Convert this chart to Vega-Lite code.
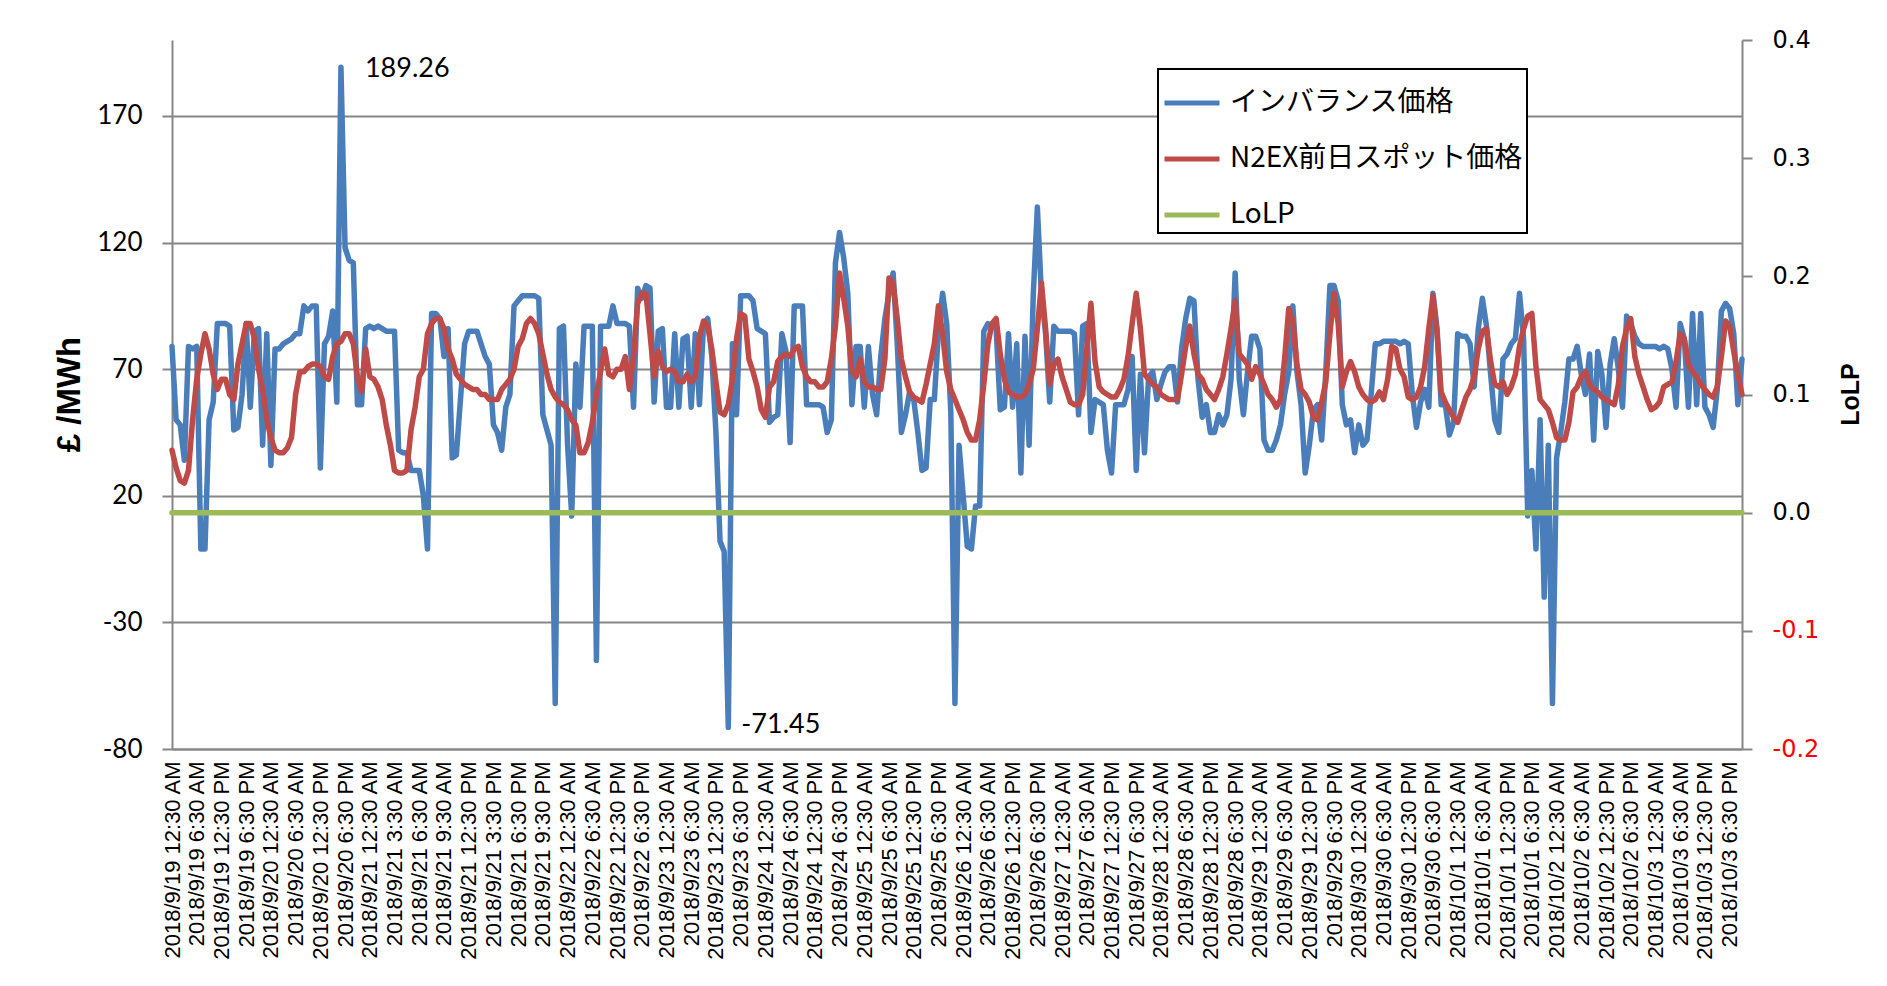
{
"$schema":"https://vega.github.io/schema/vega-lite/v6.json",
"width":1570,"height":709,
"autosize":{"type":"none"},
"padding":{"left":172,"top":40,"right":145,"bottom":237},
"background":"white",
"config":{"view":{"stroke":null},"font":"Liberation Sans"},
"data":{"values":[
{"t":"2018/9/19 12:30 AM","imb":79,"n2ex":38,"lolp":0},
{"t":"2018/9/19 1:30 AM","imb":50,"n2ex":31,"lolp":0},
{"t":"2018/9/19 2:30 AM","imb":48,"n2ex":26,"lolp":0},
{"t":"2018/9/19 3:30 AM","imb":34,"n2ex":25,"lolp":0},
{"t":"2018/9/19 4:30 AM","imb":79,"n2ex":30,"lolp":0},
{"t":"2018/9/19 5:30 AM","imb":78,"n2ex":50,"lolp":0},
{"t":"2018/9/19 6:30 AM","imb":79,"n2ex":66,"lolp":0},
{"t":"2018/9/19 7:30 AM","imb":-1,"n2ex":76,"lolp":0},
{"t":"2018/9/19 8:30 AM","imb":-1,"n2ex":84,"lolp":0},
{"t":"2018/9/19 9:30 AM","imb":50,"n2ex":78,"lolp":0},
{"t":"2018/9/19 10:30 AM","imb":57,"n2ex":68,"lolp":0},
{"t":"2018/9/19 11:30 AM","imb":88,"n2ex":62,"lolp":0},
{"t":"2018/9/19 12:30 PM","imb":88,"n2ex":66,"lolp":0},
{"t":"2018/9/19 1:30 PM","imb":88,"n2ex":66,"lolp":0},
{"t":"2018/9/19 2:30 PM","imb":87,"n2ex":60,"lolp":0},
{"t":"2018/9/19 3:30 PM","imb":46,"n2ex":58,"lolp":0},
{"t":"2018/9/19 4:30 PM","imb":47,"n2ex":72,"lolp":0},
{"t":"2018/9/19 5:30 PM","imb":60,"n2ex":80,"lolp":0},
{"t":"2018/9/19 6:30 PM","imb":88,"n2ex":88,"lolp":0},
{"t":"2018/9/19 7:30 PM","imb":55,"n2ex":88,"lolp":0},
{"t":"2018/9/19 8:30 PM","imb":85,"n2ex":82,"lolp":0},
{"t":"2018/9/19 9:30 PM","imb":86,"n2ex":70,"lolp":0},
{"t":"2018/9/19 10:30 PM","imb":40,"n2ex":62,"lolp":0},
{"t":"2018/9/19 11:30 PM","imb":84,"n2ex":50,"lolp":0},
{"t":"2018/9/20 12:30 AM","imb":32,"n2ex":43,"lolp":0},
{"t":"2018/9/20 1:30 AM","imb":78,"n2ex":38,"lolp":0},
{"t":"2018/9/20 2:30 AM","imb":78,"n2ex":37,"lolp":0},
{"t":"2018/9/20 3:30 AM","imb":80,"n2ex":37,"lolp":0},
{"t":"2018/9/20 4:30 AM","imb":81,"n2ex":39,"lolp":0},
{"t":"2018/9/20 5:30 AM","imb":82,"n2ex":43,"lolp":0},
{"t":"2018/9/20 6:30 AM","imb":84,"n2ex":60,"lolp":0},
{"t":"2018/9/20 7:30 AM","imb":84,"n2ex":69,"lolp":0},
{"t":"2018/9/20 8:30 AM","imb":95,"n2ex":69,"lolp":0},
{"t":"2018/9/20 9:30 AM","imb":93,"n2ex":71,"lolp":0},
{"t":"2018/9/20 10:30 AM","imb":95,"n2ex":72,"lolp":0},
{"t":"2018/9/20 11:30 AM","imb":95,"n2ex":72,"lolp":0},
{"t":"2018/9/20 12:30 PM","imb":31,"n2ex":71,"lolp":0},
{"t":"2018/9/20 1:30 PM","imb":80,"n2ex":67,"lolp":0},
{"t":"2018/9/20 2:30 PM","imb":83,"n2ex":66,"lolp":0},
{"t":"2018/9/20 3:30 PM","imb":93,"n2ex":75,"lolp":0},
{"t":"2018/9/20 4:30 PM","imb":57,"n2ex":80,"lolp":0},
{"t":"2018/9/20 5:30 PM","imb":189.26,"n2ex":81,"lolp":0,"lab":"189.26"},
{"t":"2018/9/20 6:30 PM","imb":118,"n2ex":84,"lolp":0},
{"t":"2018/9/20 7:30 PM","imb":113,"n2ex":84,"lolp":0},
{"t":"2018/9/20 8:30 PM","imb":112,"n2ex":80,"lolp":0},
{"t":"2018/9/20 9:30 PM","imb":56,"n2ex":67,"lolp":0},
{"t":"2018/9/20 10:30 PM","imb":56,"n2ex":61,"lolp":0},
{"t":"2018/9/20 11:30 PM","imb":86,"n2ex":78,"lolp":0},
{"t":"2018/9/21 12:30 AM","imb":87,"n2ex":67,"lolp":0},
{"t":"2018/9/21 1:00 AM","imb":86,"n2ex":66,"lolp":0},
{"t":"2018/9/21 1:30 AM","imb":87,"n2ex":63,"lolp":0},
{"t":"2018/9/21 2:00 AM","imb":86,"n2ex":58,"lolp":0},
{"t":"2018/9/21 2:30 AM","imb":85,"n2ex":48,"lolp":0},
{"t":"2018/9/21 3:00 AM","imb":85,"n2ex":40,"lolp":0},
{"t":"2018/9/21 3:30 AM","imb":85,"n2ex":30,"lolp":0},
{"t":"2018/9/21 4:00 AM","imb":38,"n2ex":29,"lolp":0},
{"t":"2018/9/21 4:30 AM","imb":37,"n2ex":29,"lolp":0},
{"t":"2018/9/21 5:00 AM","imb":37,"n2ex":30,"lolp":0},
{"t":"2018/9/21 5:30 AM","imb":30,"n2ex":46,"lolp":0},
{"t":"2018/9/21 6:00 AM","imb":30,"n2ex":55,"lolp":0},
{"t":"2018/9/21 6:30 AM","imb":30,"n2ex":67,"lolp":0},
{"t":"2018/9/21 7:00 AM","imb":20,"n2ex":70,"lolp":0},
{"t":"2018/9/21 7:30 AM","imb":-1,"n2ex":84,"lolp":0},
{"t":"2018/9/21 8:00 AM","imb":92,"n2ex":88,"lolp":0},
{"t":"2018/9/21 8:30 AM","imb":92,"n2ex":90,"lolp":0},
{"t":"2018/9/21 9:00 AM","imb":90,"n2ex":90,"lolp":0},
{"t":"2018/9/21 9:30 AM","imb":75,"n2ex":86,"lolp":0},
{"t":"2018/9/21 10:00 AM","imb":86,"n2ex":78,"lolp":0},
{"t":"2018/9/21 10:30 AM","imb":35,"n2ex":74,"lolp":0},
{"t":"2018/9/21 11:00 AM","imb":36,"n2ex":68,"lolp":0},
{"t":"2018/9/21 11:30 AM","imb":58,"n2ex":66,"lolp":0},
{"t":"2018/9/21 12:00 PM","imb":80,"n2ex":64,"lolp":0},
{"t":"2018/9/21 12:30 PM","imb":85,"n2ex":63,"lolp":0},
{"t":"2018/9/21 1:00 PM","imb":85,"n2ex":62,"lolp":0},
{"t":"2018/9/21 1:30 PM","imb":85,"n2ex":62,"lolp":0},
{"t":"2018/9/21 2:00 PM","imb":80,"n2ex":60,"lolp":0},
{"t":"2018/9/21 2:30 PM","imb":75,"n2ex":60,"lolp":0},
{"t":"2018/9/21 3:00 PM","imb":72,"n2ex":58,"lolp":0},
{"t":"2018/9/21 3:30 PM","imb":48,"n2ex":58,"lolp":0},
{"t":"2018/9/21 4:00 PM","imb":45,"n2ex":58,"lolp":0},
{"t":"2018/9/21 4:30 PM","imb":38,"n2ex":62,"lolp":0},
{"t":"2018/9/21 5:00 PM","imb":55,"n2ex":64,"lolp":0},
{"t":"2018/9/21 5:30 PM","imb":60,"n2ex":66,"lolp":0},
{"t":"2018/9/21 6:00 PM","imb":95,"n2ex":70,"lolp":0},
{"t":"2018/9/21 6:30 PM","imb":97,"n2ex":79,"lolp":0},
{"t":"2018/9/21 7:00 PM","imb":99,"n2ex":82,"lolp":0},
{"t":"2018/9/21 7:30 PM","imb":99,"n2ex":88,"lolp":0},
{"t":"2018/9/21 8:00 PM","imb":99,"n2ex":90,"lolp":0},
{"t":"2018/9/21 8:30 PM","imb":99,"n2ex":88,"lolp":0},
{"t":"2018/9/21 9:00 PM","imb":98,"n2ex":84,"lolp":0},
{"t":"2018/9/21 9:30 PM","imb":52,"n2ex":76,"lolp":0},
{"t":"2018/9/21 10:00 PM","imb":46,"n2ex":68,"lolp":0},
{"t":"2018/9/21 10:30 PM","imb":40,"n2ex":62,"lolp":0},
{"t":"2018/9/21 11:00 PM","imb":-62,"n2ex":59,"lolp":0},
{"t":"2018/9/21 11:30 PM","imb":86,"n2ex":57,"lolp":0},
{"t":"2018/9/22 12:00 AM","imb":87,"n2ex":56,"lolp":0},
{"t":"2018/9/22 12:30 AM","imb":40,"n2ex":54,"lolp":0},
{"t":"2018/9/22 1:30 AM","imb":12,"n2ex":50,"lolp":0},
{"t":"2018/9/22 2:30 AM","imb":72,"n2ex":48,"lolp":0},
{"t":"2018/9/22 3:30 AM","imb":55,"n2ex":37,"lolp":0},
{"t":"2018/9/22 4:30 AM","imb":87,"n2ex":37,"lolp":0},
{"t":"2018/9/22 5:30 AM","imb":87,"n2ex":41,"lolp":0},
{"t":"2018/9/22 6:30 AM","imb":87,"n2ex":49,"lolp":0},
{"t":"2018/9/22 7:30 AM","imb":-45,"n2ex":60,"lolp":0},
{"t":"2018/9/22 8:30 AM","imb":87,"n2ex":69,"lolp":0},
{"t":"2018/9/22 9:30 AM","imb":87,"n2ex":78,"lolp":0},
{"t":"2018/9/22 10:30 AM","imb":87,"n2ex":68,"lolp":0},
{"t":"2018/9/22 11:30 AM","imb":95,"n2ex":67,"lolp":0},
{"t":"2018/9/22 12:30 PM","imb":88,"n2ex":70,"lolp":0},
{"t":"2018/9/22 1:30 PM","imb":88,"n2ex":70,"lolp":0},
{"t":"2018/9/22 2:30 PM","imb":88,"n2ex":75,"lolp":0},
{"t":"2018/9/22 3:30 PM","imb":87,"n2ex":62,"lolp":0},
{"t":"2018/9/22 4:30 PM","imb":55,"n2ex":75,"lolp":0},
{"t":"2018/9/22 5:30 PM","imb":102,"n2ex":96,"lolp":0},
{"t":"2018/9/22 6:30 PM","imb":98,"n2ex":100,"lolp":0},
{"t":"2018/9/22 7:30 PM","imb":103,"n2ex":100,"lolp":0},
{"t":"2018/9/22 8:30 PM","imb":102,"n2ex":84,"lolp":0},
{"t":"2018/9/22 9:30 PM","imb":57,"n2ex":67,"lolp":0},
{"t":"2018/9/22 10:30 PM","imb":85,"n2ex":77,"lolp":0},
{"t":"2018/9/22 11:30 PM","imb":86,"n2ex":71,"lolp":0},
{"t":"2018/9/23 12:30 AM","imb":55,"n2ex":69,"lolp":0},
{"t":"2018/9/23 1:30 AM","imb":55,"n2ex":70,"lolp":0},
{"t":"2018/9/23 2:30 AM","imb":84,"n2ex":69,"lolp":0},
{"t":"2018/9/23 3:30 AM","imb":55,"n2ex":65,"lolp":0},
{"t":"2018/9/23 4:30 AM","imb":82,"n2ex":65,"lolp":0},
{"t":"2018/9/23 5:30 AM","imb":83,"n2ex":68,"lolp":0},
{"t":"2018/9/23 6:30 AM","imb":55,"n2ex":65,"lolp":0},
{"t":"2018/9/23 7:30 AM","imb":84,"n2ex":67,"lolp":0},
{"t":"2018/9/23 8:30 AM","imb":56,"n2ex":83,"lolp":0},
{"t":"2018/9/23 9:30 AM","imb":88,"n2ex":89,"lolp":0},
{"t":"2018/9/23 10:30 AM","imb":90,"n2ex":87,"lolp":0},
{"t":"2018/9/23 11:30 AM","imb":75,"n2ex":78,"lolp":0},
{"t":"2018/9/23 12:30 PM","imb":45,"n2ex":65,"lolp":0},
{"t":"2018/9/23 1:30 PM","imb":2,"n2ex":53,"lolp":0},
{"t":"2018/9/23 2:30 PM","imb":-2,"n2ex":52,"lolp":0},
{"t":"2018/9/23 3:30 PM","imb":-71.45,"n2ex":56,"lolp":0,"lab":"-71.45"},
{"t":"2018/9/23 4:30 PM","imb":80,"n2ex":66,"lolp":0},
{"t":"2018/9/23 5:30 PM","imb":52,"n2ex":82,"lolp":0},
{"t":"2018/9/23 6:30 PM","imb":99,"n2ex":92,"lolp":0},
{"t":"2018/9/23 7:30 PM","imb":99,"n2ex":91,"lolp":0},
{"t":"2018/9/23 8:30 PM","imb":99,"n2ex":74,"lolp":0},
{"t":"2018/9/23 9:30 PM","imb":97,"n2ex":69,"lolp":0},
{"t":"2018/9/23 10:30 PM","imb":86,"n2ex":63,"lolp":0},
{"t":"2018/9/23 11:30 PM","imb":85,"n2ex":54,"lolp":0},
{"t":"2018/9/24 12:30 AM","imb":84,"n2ex":51,"lolp":0},
{"t":"2018/9/24 1:30 AM","imb":49,"n2ex":63,"lolp":0},
{"t":"2018/9/24 2:30 AM","imb":51,"n2ex":65,"lolp":0},
{"t":"2018/9/24 3:30 AM","imb":52,"n2ex":73,"lolp":0},
{"t":"2018/9/24 4:30 AM","imb":84,"n2ex":75,"lolp":0},
{"t":"2018/9/24 5:30 AM","imb":77,"n2ex":76,"lolp":0},
{"t":"2018/9/24 6:30 AM","imb":41,"n2ex":75,"lolp":0},
{"t":"2018/9/24 7:30 AM","imb":95,"n2ex":78,"lolp":0},
{"t":"2018/9/24 8:30 AM","imb":95,"n2ex":79,"lolp":0},
{"t":"2018/9/24 9:30 AM","imb":95,"n2ex":71,"lolp":0},
{"t":"2018/9/24 10:30 AM","imb":56,"n2ex":67,"lolp":0},
{"t":"2018/9/24 11:30 AM","imb":56,"n2ex":65,"lolp":0},
{"t":"2018/9/24 12:30 PM","imb":56,"n2ex":65,"lolp":0},
{"t":"2018/9/24 1:30 PM","imb":56,"n2ex":63,"lolp":0},
{"t":"2018/9/24 2:30 PM","imb":55,"n2ex":63,"lolp":0},
{"t":"2018/9/24 3:30 PM","imb":45,"n2ex":65,"lolp":0},
{"t":"2018/9/24 4:30 PM","imb":50,"n2ex":74,"lolp":0},
{"t":"2018/9/24 5:30 PM","imb":112,"n2ex":87,"lolp":0},
{"t":"2018/9/24 6:30 PM","imb":124,"n2ex":108,"lolp":0},
{"t":"2018/9/24 7:30 PM","imb":114,"n2ex":98,"lolp":0},
{"t":"2018/9/24 8:30 PM","imb":100,"n2ex":87,"lolp":0},
{"t":"2018/9/24 9:30 PM","imb":56,"n2ex":69,"lolp":0},
{"t":"2018/9/24 10:30 PM","imb":79,"n2ex":67,"lolp":0},
{"t":"2018/9/24 11:30 PM","imb":79,"n2ex":74,"lolp":0},
{"t":"2018/9/25 12:30 AM","imb":55,"n2ex":65,"lolp":0},
{"t":"2018/9/25 1:30 AM","imb":79,"n2ex":63,"lolp":0},
{"t":"2018/9/25 2:30 AM","imb":60,"n2ex":63,"lolp":0},
{"t":"2018/9/25 3:30 AM","imb":52,"n2ex":62,"lolp":0},
{"t":"2018/9/25 4:30 AM","imb":75,"n2ex":62,"lolp":0},
{"t":"2018/9/25 5:30 AM","imb":90,"n2ex":74,"lolp":0},
{"t":"2018/9/25 6:30 AM","imb":100,"n2ex":106,"lolp":0},
{"t":"2018/9/25 7:30 AM","imb":108,"n2ex":104,"lolp":0},
{"t":"2018/9/25 8:30 AM","imb":80,"n2ex":90,"lolp":0},
{"t":"2018/9/25 9:30 AM","imb":45,"n2ex":74,"lolp":0},
{"t":"2018/9/25 10:30 AM","imb":52,"n2ex":67,"lolp":0},
{"t":"2018/9/25 11:30 AM","imb":61,"n2ex":61,"lolp":0},
{"t":"2018/9/25 12:30 PM","imb":58,"n2ex":59,"lolp":0},
{"t":"2018/9/25 1:30 PM","imb":45,"n2ex":58,"lolp":0},
{"t":"2018/9/25 2:30 PM","imb":30,"n2ex":57,"lolp":0},
{"t":"2018/9/25 3:30 PM","imb":31,"n2ex":64,"lolp":0},
{"t":"2018/9/25 4:30 PM","imb":58,"n2ex":72,"lolp":0},
{"t":"2018/9/25 5:30 PM","imb":58,"n2ex":80,"lolp":0},
{"t":"2018/9/25 6:30 PM","imb":85,"n2ex":95,"lolp":0},
{"t":"2018/9/25 7:30 PM","imb":100,"n2ex":84,"lolp":0},
{"t":"2018/9/25 8:30 PM","imb":88,"n2ex":69,"lolp":0},
{"t":"2018/9/25 9:30 PM","imb":53,"n2ex":62,"lolp":0},
{"t":"2018/9/25 10:30 PM","imb":-62,"n2ex":58,"lolp":0},
{"t":"2018/9/25 11:30 PM","imb":40,"n2ex":54,"lolp":0},
{"t":"2018/9/26 12:30 AM","imb":20,"n2ex":50,"lolp":0},
{"t":"2018/9/26 1:30 AM","imb":0,"n2ex":45,"lolp":0},
{"t":"2018/9/26 2:30 AM","imb":-1,"n2ex":42,"lolp":0},
{"t":"2018/9/26 3:30 AM","imb":16,"n2ex":42,"lolp":0},
{"t":"2018/9/26 4:30 AM","imb":16,"n2ex":50,"lolp":0},
{"t":"2018/9/26 5:30 AM","imb":85,"n2ex":64,"lolp":0},
{"t":"2018/9/26 6:30 AM","imb":88,"n2ex":80,"lolp":0},
{"t":"2018/9/26 7:30 AM","imb":87,"n2ex":88,"lolp":0},
{"t":"2018/9/26 8:30 AM","imb":86,"n2ex":90,"lolp":0},
{"t":"2018/9/26 9:30 AM","imb":54,"n2ex":76,"lolp":0},
{"t":"2018/9/26 10:30 AM","imb":55,"n2ex":66,"lolp":0},
{"t":"2018/9/26 11:30 AM","imb":84,"n2ex":61,"lolp":0},
{"t":"2018/9/26 12:30 PM","imb":55,"n2ex":60,"lolp":0},
{"t":"2018/9/26 1:30 PM","imb":80,"n2ex":59,"lolp":0},
{"t":"2018/9/26 2:30 PM","imb":29,"n2ex":59,"lolp":0},
{"t":"2018/9/26 3:30 PM","imb":83,"n2ex":60,"lolp":0},
{"t":"2018/9/26 4:30 PM","imb":40,"n2ex":64,"lolp":0},
{"t":"2018/9/26 5:30 PM","imb":99,"n2ex":70,"lolp":0},
{"t":"2018/9/26 6:30 PM","imb":134,"n2ex":86,"lolp":0},
{"t":"2018/9/26 7:30 PM","imb":99,"n2ex":104,"lolp":0},
{"t":"2018/9/26 8:30 PM","imb":84,"n2ex":86,"lolp":0},
{"t":"2018/9/26 9:30 PM","imb":57,"n2ex":64,"lolp":0},
{"t":"2018/9/26 10:30 PM","imb":87,"n2ex":72,"lolp":0},
{"t":"2018/9/26 11:30 PM","imb":85,"n2ex":74,"lolp":0},
{"t":"2018/9/27 12:30 AM","imb":85,"n2ex":67,"lolp":0},
{"t":"2018/9/27 1:30 AM","imb":85,"n2ex":62,"lolp":0},
{"t":"2018/9/27 2:30 AM","imb":85,"n2ex":57,"lolp":0},
{"t":"2018/9/27 3:30 AM","imb":84,"n2ex":56,"lolp":0},
{"t":"2018/9/27 4:30 AM","imb":52,"n2ex":56,"lolp":0},
{"t":"2018/9/27 5:30 AM","imb":87,"n2ex":60,"lolp":0},
{"t":"2018/9/27 6:30 AM","imb":88,"n2ex":78,"lolp":0},
{"t":"2018/9/27 7:30 AM","imb":45,"n2ex":96,"lolp":0},
{"t":"2018/9/27 8:30 AM","imb":58,"n2ex":73,"lolp":0},
{"t":"2018/9/27 9:30 AM","imb":57,"n2ex":63,"lolp":0},
{"t":"2018/9/27 10:30 AM","imb":56,"n2ex":61,"lolp":0},
{"t":"2018/9/27 11:30 AM","imb":38,"n2ex":60,"lolp":0},
{"t":"2018/9/27 12:30 PM","imb":29,"n2ex":59,"lolp":0},
{"t":"2018/9/27 1:30 PM","imb":56,"n2ex":59,"lolp":0},
{"t":"2018/9/27 2:30 PM","imb":56,"n2ex":62,"lolp":0},
{"t":"2018/9/27 3:30 PM","imb":56,"n2ex":66,"lolp":0},
{"t":"2018/9/27 4:30 PM","imb":62,"n2ex":75,"lolp":0},
{"t":"2018/9/27 5:30 PM","imb":75,"n2ex":88,"lolp":0},
{"t":"2018/9/27 6:30 PM","imb":30,"n2ex":100,"lolp":0},
{"t":"2018/9/27 7:30 PM","imb":68,"n2ex":86,"lolp":0},
{"t":"2018/9/27 8:30 PM","imb":37,"n2ex":68,"lolp":0},
{"t":"2018/9/27 9:30 PM","imb":67,"n2ex":66,"lolp":0},
{"t":"2018/9/27 10:30 PM","imb":69,"n2ex":64,"lolp":0},
{"t":"2018/9/27 11:30 PM","imb":58,"n2ex":63,"lolp":0},
{"t":"2018/9/28 12:30 AM","imb":64,"n2ex":60,"lolp":0},
{"t":"2018/9/28 1:30 AM","imb":69,"n2ex":59,"lolp":0},
{"t":"2018/9/28 2:30 AM","imb":71,"n2ex":58,"lolp":0},
{"t":"2018/9/28 3:30 AM","imb":71,"n2ex":58,"lolp":0},
{"t":"2018/9/28 4:30 AM","imb":57,"n2ex":58,"lolp":0},
{"t":"2018/9/28 5:30 AM","imb":78,"n2ex":68,"lolp":0},
{"t":"2018/9/28 6:30 AM","imb":90,"n2ex":79,"lolp":0},
{"t":"2018/9/28 7:30 AM","imb":98,"n2ex":87,"lolp":0},
{"t":"2018/9/28 8:30 AM","imb":97,"n2ex":76,"lolp":0},
{"t":"2018/9/28 9:30 AM","imb":66,"n2ex":68,"lolp":0},
{"t":"2018/9/28 10:30 AM","imb":51,"n2ex":66,"lolp":0},
{"t":"2018/9/28 11:30 AM","imb":56,"n2ex":62,"lolp":0},
{"t":"2018/9/28 12:30 PM","imb":45,"n2ex":60,"lolp":0},
{"t":"2018/9/28 1:30 PM","imb":45,"n2ex":58,"lolp":0},
{"t":"2018/9/28 2:30 PM","imb":52,"n2ex":62,"lolp":0},
{"t":"2018/9/28 3:30 PM","imb":48,"n2ex":67,"lolp":0},
{"t":"2018/9/28 4:30 PM","imb":52,"n2ex":76,"lolp":0},
{"t":"2018/9/28 5:30 PM","imb":66,"n2ex":86,"lolp":0},
{"t":"2018/9/28 6:30 PM","imb":108,"n2ex":97,"lolp":0},
{"t":"2018/9/28 7:30 PM","imb":66,"n2ex":76,"lolp":0},
{"t":"2018/9/28 8:30 PM","imb":52,"n2ex":74,"lolp":0},
{"t":"2018/9/28 9:30 PM","imb":69,"n2ex":72,"lolp":0},
{"t":"2018/9/28 10:30 PM","imb":83,"n2ex":66,"lolp":0},
{"t":"2018/9/28 11:30 PM","imb":83,"n2ex":71,"lolp":0},
{"t":"2018/9/29 12:30 AM","imb":78,"n2ex":68,"lolp":0},
{"t":"2018/9/29 1:30 AM","imb":42,"n2ex":64,"lolp":0},
{"t":"2018/9/29 2:30 AM","imb":38,"n2ex":60,"lolp":0},
{"t":"2018/9/29 3:30 AM","imb":38,"n2ex":58,"lolp":0},
{"t":"2018/9/29 4:30 AM","imb":42,"n2ex":55,"lolp":0},
{"t":"2018/9/29 5:30 AM","imb":48,"n2ex":58,"lolp":0},
{"t":"2018/9/29 6:30 AM","imb":60,"n2ex":74,"lolp":0},
{"t":"2018/9/29 7:30 AM","imb":69,"n2ex":94,"lolp":0},
{"t":"2018/9/29 8:30 AM","imb":95,"n2ex":89,"lolp":0},
{"t":"2018/9/29 9:30 AM","imb":69,"n2ex":72,"lolp":0},
{"t":"2018/9/29 10:30 AM","imb":56,"n2ex":62,"lolp":0},
{"t":"2018/9/29 11:30 AM","imb":29,"n2ex":60,"lolp":0},
{"t":"2018/9/29 12:30 PM","imb":40,"n2ex":57,"lolp":0},
{"t":"2018/9/29 1:30 PM","imb":54,"n2ex":51,"lolp":0},
{"t":"2018/9/29 2:30 PM","imb":56,"n2ex":50,"lolp":0},
{"t":"2018/9/29 3:30 PM","imb":42,"n2ex":57,"lolp":0},
{"t":"2018/9/29 4:30 PM","imb":69,"n2ex":65,"lolp":0},
{"t":"2018/9/29 5:30 PM","imb":103,"n2ex":84,"lolp":0},
{"t":"2018/9/29 6:30 PM","imb":103,"n2ex":100,"lolp":0},
{"t":"2018/9/29 7:30 PM","imb":97,"n2ex":88,"lolp":0},
{"t":"2018/9/29 8:30 PM","imb":56,"n2ex":63,"lolp":0},
{"t":"2018/9/29 9:30 PM","imb":48,"n2ex":69,"lolp":0},
{"t":"2018/9/29 10:30 PM","imb":50,"n2ex":73,"lolp":0},
{"t":"2018/9/29 11:30 PM","imb":37,"n2ex":69,"lolp":0},
{"t":"2018/9/30 12:30 AM","imb":48,"n2ex":63,"lolp":0},
{"t":"2018/9/30 1:30 AM","imb":40,"n2ex":60,"lolp":0},
{"t":"2018/9/30 2:30 AM","imb":42,"n2ex":58,"lolp":0},
{"t":"2018/9/30 3:30 AM","imb":60,"n2ex":57,"lolp":0},
{"t":"2018/9/30 4:30 AM","imb":80,"n2ex":58,"lolp":0},
{"t":"2018/9/30 5:30 AM","imb":80,"n2ex":61,"lolp":0},
{"t":"2018/9/30 6:30 AM","imb":81,"n2ex":58,"lolp":0},
{"t":"2018/9/30 7:30 AM","imb":81,"n2ex":66,"lolp":0},
{"t":"2018/9/30 8:30 AM","imb":81,"n2ex":79,"lolp":0},
{"t":"2018/9/30 9:30 AM","imb":81,"n2ex":78,"lolp":0},
{"t":"2018/9/30 10:30 AM","imb":80,"n2ex":70,"lolp":0},
{"t":"2018/9/30 11:30 AM","imb":81,"n2ex":67,"lolp":0},
{"t":"2018/9/30 12:30 PM","imb":80,"n2ex":59,"lolp":0},
{"t":"2018/9/30 1:30 PM","imb":60,"n2ex":58,"lolp":0},
{"t":"2018/9/30 2:30 PM","imb":47,"n2ex":59,"lolp":0},
{"t":"2018/9/30 3:30 PM","imb":57,"n2ex":63,"lolp":0},
{"t":"2018/9/30 4:30 PM","imb":62,"n2ex":71,"lolp":0},
{"t":"2018/9/30 5:30 PM","imb":55,"n2ex":86,"lolp":0},
{"t":"2018/9/30 6:30 PM","imb":100,"n2ex":99,"lolp":0},
{"t":"2018/9/30 7:30 PM","imb":86,"n2ex":84,"lolp":0},
{"t":"2018/9/30 8:30 PM","imb":56,"n2ex":61,"lolp":0},
{"t":"2018/9/30 9:30 PM","imb":56,"n2ex":57,"lolp":0},
{"t":"2018/9/30 10:30 PM","imb":44,"n2ex":54,"lolp":0},
{"t":"2018/9/30 11:30 PM","imb":49,"n2ex":51,"lolp":0},
{"t":"2018/10/1 12:30 AM","imb":84,"n2ex":49,"lolp":0},
{"t":"2018/10/1 1:30 AM","imb":83,"n2ex":54,"lolp":0},
{"t":"2018/10/1 2:30 AM","imb":83,"n2ex":59,"lolp":0},
{"t":"2018/10/1 3:30 AM","imb":80,"n2ex":62,"lolp":0},
{"t":"2018/10/1 4:30 AM","imb":63,"n2ex":67,"lolp":0},
{"t":"2018/10/1 5:30 AM","imb":86,"n2ex":78,"lolp":0},
{"t":"2018/10/1 6:30 AM","imb":98,"n2ex":85,"lolp":0},
{"t":"2018/10/1 7:30 AM","imb":87,"n2ex":86,"lolp":0},
{"t":"2018/10/1 8:30 AM","imb":68,"n2ex":73,"lolp":0},
{"t":"2018/10/1 9:30 AM","imb":50,"n2ex":64,"lolp":0},
{"t":"2018/10/1 10:30 AM","imb":45,"n2ex":63,"lolp":0},
{"t":"2018/10/1 11:30 AM","imb":74,"n2ex":65,"lolp":0},
{"t":"2018/10/1 12:30 PM","imb":76,"n2ex":60,"lolp":0},
{"t":"2018/10/1 1:30 PM","imb":80,"n2ex":63,"lolp":0},
{"t":"2018/10/1 2:30 PM","imb":82,"n2ex":68,"lolp":0},
{"t":"2018/10/1 3:30 PM","imb":100,"n2ex":79,"lolp":0},
{"t":"2018/10/1 4:30 PM","imb":82,"n2ex":86,"lolp":0},
{"t":"2018/10/1 5:30 PM","imb":12,"n2ex":91,"lolp":0},
{"t":"2018/10/1 6:30 PM","imb":30,"n2ex":92,"lolp":0},
{"t":"2018/10/1 7:30 PM","imb":-1,"n2ex":71,"lolp":0},
{"t":"2018/10/1 8:30 PM","imb":50,"n2ex":58,"lolp":0},
{"t":"2018/10/1 9:30 PM","imb":-20,"n2ex":56,"lolp":0},
{"t":"2018/10/1 10:30 PM","imb":40,"n2ex":54,"lolp":0},
{"t":"2018/10/1 11:30 PM","imb":-62,"n2ex":49,"lolp":0},
{"t":"2018/10/2 12:30 AM","imb":35,"n2ex":43,"lolp":0},
{"t":"2018/10/2 1:30 AM","imb":45,"n2ex":42,"lolp":0},
{"t":"2018/10/2 2:30 AM","imb":57,"n2ex":42,"lolp":0},
{"t":"2018/10/2 3:30 AM","imb":74,"n2ex":49,"lolp":0},
{"t":"2018/10/2 4:30 AM","imb":74,"n2ex":61,"lolp":0},
{"t":"2018/10/2 5:30 AM","imb":79,"n2ex":63,"lolp":0},
{"t":"2018/10/2 6:30 AM","imb":68,"n2ex":67,"lolp":0},
{"t":"2018/10/2 7:30 AM","imb":60,"n2ex":69,"lolp":0},
{"t":"2018/10/2 8:30 AM","imb":76,"n2ex":64,"lolp":0},
{"t":"2018/10/2 9:30 AM","imb":42,"n2ex":62,"lolp":0},
{"t":"2018/10/2 10:30 AM","imb":77,"n2ex":61,"lolp":0},
{"t":"2018/10/2 11:30 AM","imb":68,"n2ex":59,"lolp":0},
{"t":"2018/10/2 12:30 PM","imb":47,"n2ex":58,"lolp":0},
{"t":"2018/10/2 1:30 PM","imb":72,"n2ex":57,"lolp":0},
{"t":"2018/10/2 2:30 PM","imb":82,"n2ex":56,"lolp":0},
{"t":"2018/10/2 3:30 PM","imb":70,"n2ex":64,"lolp":0},
{"t":"2018/10/2 4:30 PM","imb":55,"n2ex":79,"lolp":0},
{"t":"2018/10/2 5:30 PM","imb":91,"n2ex":86,"lolp":0},
{"t":"2018/10/2 6:30 PM","imb":88,"n2ex":90,"lolp":0},
{"t":"2018/10/2 7:30 PM","imb":83,"n2ex":75,"lolp":0},
{"t":"2018/10/2 8:30 PM","imb":80,"n2ex":68,"lolp":0},
{"t":"2018/10/2 9:30 PM","imb":79,"n2ex":63,"lolp":0},
{"t":"2018/10/2 10:30 PM","imb":79,"n2ex":58,"lolp":0},
{"t":"2018/10/2 11:30 PM","imb":79,"n2ex":54,"lolp":0},
{"t":"2018/10/3 12:30 AM","imb":79,"n2ex":55,"lolp":0},
{"t":"2018/10/3 1:30 AM","imb":78,"n2ex":57,"lolp":0},
{"t":"2018/10/3 2:30 AM","imb":79,"n2ex":63,"lolp":0},
{"t":"2018/10/3 3:30 AM","imb":78,"n2ex":64,"lolp":0},
{"t":"2018/10/3 4:30 AM","imb":70,"n2ex":65,"lolp":0},
{"t":"2018/10/3 5:30 AM","imb":55,"n2ex":73,"lolp":0},
{"t":"2018/10/3 6:30 AM","imb":88,"n2ex":84,"lolp":0},
{"t":"2018/10/3 7:30 AM","imb":82,"n2ex":82,"lolp":0},
{"t":"2018/10/3 8:30 AM","imb":55,"n2ex":72,"lolp":0},
{"t":"2018/10/3 9:30 AM","imb":92,"n2ex":69,"lolp":0},
{"t":"2018/10/3 10:30 AM","imb":56,"n2ex":67,"lolp":0},
{"t":"2018/10/3 11:30 AM","imb":92,"n2ex":64,"lolp":0},
{"t":"2018/10/3 12:30 PM","imb":55,"n2ex":62,"lolp":0},
{"t":"2018/10/3 1:30 PM","imb":52,"n2ex":60,"lolp":0},
{"t":"2018/10/3 2:30 PM","imb":47,"n2ex":59,"lolp":0},
{"t":"2018/10/3 3:30 PM","imb":62,"n2ex":63,"lolp":0},
{"t":"2018/10/3 4:30 PM","imb":93,"n2ex":75,"lolp":0},
{"t":"2018/10/3 5:30 PM","imb":96,"n2ex":89,"lolp":0},
{"t":"2018/10/3 6:30 PM","imb":94,"n2ex":87,"lolp":0},
{"t":"2018/10/3 7:30 PM","imb":84,"n2ex":77,"lolp":0},
{"t":"2018/10/3 8:30 PM","imb":56,"n2ex":68,"lolp":0},
{"t":"2018/10/3 9:30 PM","imb":74,"n2ex":60,"lolp":0}
]},
"encoding":{"x":{"field":"t","type":"ordinal","sort":null,"scale":{"type":"point","padding":0},
"axis":{"title":null,"values":["2018/9/19 12:30 AM","2018/9/19 6:30 AM","2018/9/19 12:30 PM","2018/9/19 6:30 PM","2018/9/20 12:30 AM","2018/9/20 6:30 AM","2018/9/20 12:30 PM","2018/9/20 6:30 PM","2018/9/21 12:30 AM","2018/9/21 3:30 AM","2018/9/21 6:30 AM","2018/9/21 9:30 AM","2018/9/21 12:30 PM","2018/9/21 3:30 PM","2018/9/21 6:30 PM","2018/9/21 9:30 PM","2018/9/22 12:30 AM","2018/9/22 6:30 AM","2018/9/22 12:30 PM","2018/9/22 6:30 PM","2018/9/23 12:30 AM","2018/9/23 6:30 AM","2018/9/23 12:30 PM","2018/9/23 6:30 PM","2018/9/24 12:30 AM","2018/9/24 6:30 AM","2018/9/24 12:30 PM","2018/9/24 6:30 PM","2018/9/25 12:30 AM","2018/9/25 6:30 AM","2018/9/25 12:30 PM","2018/9/25 6:30 PM","2018/9/26 12:30 AM","2018/9/26 6:30 AM","2018/9/26 12:30 PM","2018/9/26 6:30 PM","2018/9/27 12:30 AM","2018/9/27 6:30 AM","2018/9/27 12:30 PM","2018/9/27 6:30 PM","2018/9/28 12:30 AM","2018/9/28 6:30 AM","2018/9/28 12:30 PM","2018/9/28 6:30 PM","2018/9/29 12:30 AM","2018/9/29 6:30 AM","2018/9/29 12:30 PM","2018/9/29 6:30 PM","2018/9/30 12:30 AM","2018/9/30 6:30 AM","2018/9/30 12:30 PM","2018/9/30 6:30 PM","2018/10/1 12:30 AM","2018/10/1 6:30 AM","2018/10/1 12:30 PM","2018/10/1 6:30 PM","2018/10/2 12:30 AM","2018/10/2 6:30 AM","2018/10/2 12:30 PM","2018/10/2 6:30 PM","2018/10/3 12:30 AM","2018/10/3 6:30 AM","2018/10/3 12:30 PM","2018/10/3 6:30 PM"],
"labelAngle":-90,"labelFont":"Liberation Sans","labelFontSize":22,"labelColor":"#000000","labelPadding":12,"labelLimit":400,"labelOverlap":false,"labelBound":false,"ticks":false,"grid":false,"domainColor":"#868686","domainWidth":2}}},
"layer":[
{"mark":{"type":"line","strokeWidth":5.5,"strokeJoin":"round","strokeCap":"round"},
"encoding":{"y":{"field":"imb","type":"quantitative","scale":{"domain":[-80,200],"nice":false,"zero":false},
"axis":{"orient":"left","title":"£ /MWh","values":[-80,-30,20,70,120,170],"labelExpr":"datum.value + ''","grid":true,"gridColor":"#868686","gridWidth":2,"domainColor":"#868686","domainWidth":2,"tickColor":"#868686","tickWidth":2,"tickSize":10,"labelFont":"Lato","labelFontSize":26,"labelColor":"#000000","labelPadding":20,"titleFont":"Liberation Sans","titleFontSize":33,"titleFontWeight":"bold","titleColor":"#000000","titleAngle":-90,"titleX":-103,"titleY":354,"titleAlign":"center","titleBaseline":"middle"}},
"color":{"datum":"インバランス価格","scale":{"domain":["インバランス価格","N2EX前日スポット価格","LoLP"],"range":["#4a7ebb","#be4b48","#9bbb59"]},
"legend":{"orient":"none","legendX":986,"legendY":29,"title":null,"symbolType":"stroke","symbolStrokeWidth":5,"symbolSize":3025,"labelFont":"Noto Sans CJK JP","labelFontSize":28,"labelColor":"#000000","labelLimit":400,"strokeColor":"#000000","fillColor":"#ffffff","padding":4,"rowPadding":12,"labelOffset":8,"direction":"vertical","encode":{"legend":{"update":{"strokeWidth":{"value":2}}}}}}}},
{"mark":{"type":"line","strokeWidth":5.5,"strokeJoin":"round","strokeCap":"round"},
"encoding":{"y":{"field":"n2ex","type":"quantitative","scale":{"domain":[-80,200],"nice":false,"zero":false},"axis":null},"color":{"datum":"N2EX前日スポット価格"}}},
{"mark":{"type":"text","align":"left","baseline":"middle","dx":24,"dy":2,"font":"Lato","fontSize":27,"color":"#000000"},
"encoding":{"y":{"field":"imb","type":"quantitative","scale":{"domain":[-80,200],"nice":false,"zero":false},"axis":null},"text":{"condition":{"test":"datum.lab == '189.26'","field":"lab","type":"nominal"},"value":""}}},
{"mark":{"type":"text","align":"left","baseline":"middle","dx":13,"dy":-2,"font":"Lato","fontSize":27,"color":"#000000"},
"encoding":{"y":{"field":"imb","type":"quantitative","scale":{"domain":[-80,200],"nice":false,"zero":false},"axis":null},"text":{"condition":{"test":"datum.lab == '-71.45'","field":"lab","type":"nominal"},"value":""}}},
{"mark":{"type":"line","strokeWidth":5.5,"strokeCap":"round"},
"encoding":{"y":{"field":"lolp","type":"quantitative","scale":{"domain":[-0.2,0.4],"nice":false,"zero":false},
"axis":{"orient":"right","title":"LoLP","values":[-0.2,-0.1,0,0.1,0.2,0.3,0.4],"labelExpr":"datum.value == 0 ? '0.0' : (datum.value < 0 ? '-' : '') + format(abs(datum.value), '.1f')","grid":false,"domainColor":"#868686","domainWidth":2,"tickColor":"#868686","tickWidth":2,"tickSize":10,"labelFont":"DejaVu Sans","labelFontSize":24,"labelColor":{"condition":{"test":"datum.value < 0","value":"#ff0000"},"value":"#000000"},"labelPadding":20,"titleFont":"Liberation Sans","titleFontSize":25,"titleFontWeight":"bold","titleColor":"#000000","titleAngle":-90,"titleX":108,"titleY":354,"titleAlign":"center","titleBaseline":"middle"}},
"color":{"datum":"LoLP"}}}
],
"resolve":{"scale":{"y":"independent"}}
}
